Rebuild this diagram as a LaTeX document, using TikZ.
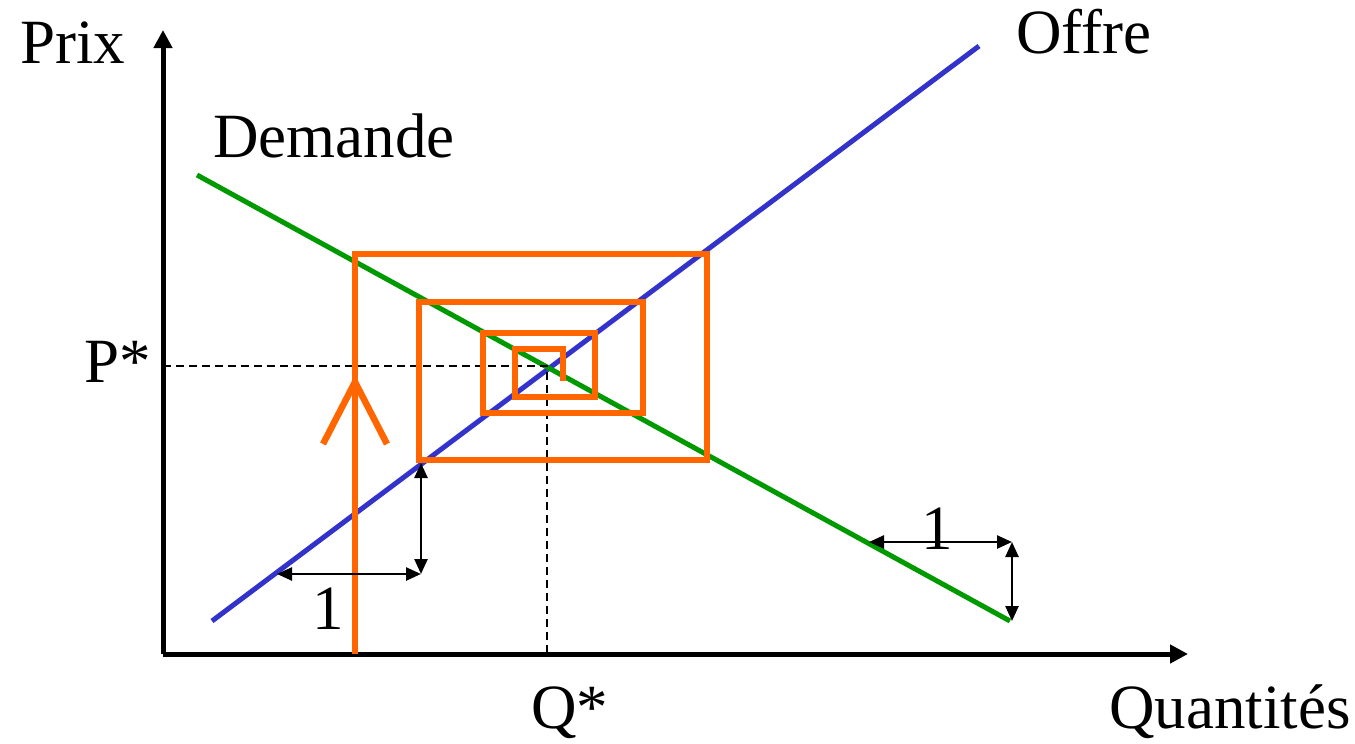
\documentclass[tikz,border=0pt]{standalone}
\usepackage{fontspec}
\setmainfont{Liberation Serif}
\usetikzlibrary{arrows.meta}
\definecolor{supblue}{RGB}{51,51,204}
\definecolor{demgreen}{RGB}{0,153,0}
\definecolor{cobweb}{RGB}{255,102,0}
\begin{document}
\begin{tikzpicture}[x=1pt,y=-1pt,
  lbl/.style={anchor=base west,inner sep=0pt,font=\fontsize{63}{70}\selectfont},
  axis/.style={line width=5pt,-{Triangle[length=18pt,width=18pt]}},
  curve/.style={line width=5pt},
  web/.style={line width=6.5pt,cobweb,line join=miter},
  unit/.style={line width=2.5pt,{Triangle[length=15pt,width=13pt]}-{Triangle[length=15pt,width=13pt]}},
  guide/.style={line width=1.5pt,dash pattern=on 8pt off 5pt}]
\useasboundingbox (0,0) rectangle (1355,744);
% coordinates
\coordinate (O) at (163,654);
\coordinate (ytop) at (163,30);
\coordinate (xend) at (1188,654);
\coordinate (s1) at (212,621);
\coordinate (s2) at (979,46);
\coordinate (d1) at (197,175);
\coordinate (d2) at (1010,621);
\coordinate (E) at (547,366);
\coordinate (Ey) at (163,366);
\coordinate (Ex) at (547,654);
% axes
\draw[axis] (O) -- (ytop);
\draw[axis] (O) -- (xend);
% curves
\draw[curve,supblue] (s1) -- (s2);
\draw[curve,demgreen] (d1) -- (d2);
% guides
\draw[guide] (Ey) -- (E) -- (Ex);
% cobweb
\coordinate (c0) at (355,654);
\draw[web] (c0) -- (355,254) -- (707,254) -- (707,460) -- (419,460) -- (419,302)
  -- (643,302) -- (643,413) -- (483,413) -- (483,333) -- (595,333) -- (595,397)
  -- (515,397) -- (515,349) -- (563,349) -- (563,381);
\coordinate (tip) at (355,382);
\coordinate (al) at (323,444);
\coordinate (ar) at (387,444);
\draw[web,line cap=butt] (al) -- (tip) -- (ar);
% unit triangles
\coordinate (u1) at (277,574);
\coordinate (u2) at (421,574);
\coordinate (u3) at (421,463);
\draw[unit] (u1) -- (u2);
\draw[unit] (u2) -- (u3);
\coordinate (v1) at (869,542);
\coordinate (v2) at (1012,542);
\coordinate (v3) at (1012,621);
\draw[unit] (v1) -- (v2);
\draw[unit] (v2) -- (v3);
% labels
\node[lbl] (prix) at (20,63) {Prix};
\node[lbl] (offre) at (1016,53) {Offre};
\node[lbl] (dem) at (213,157) {Demande};
\node[lbl] (pstar) at (84,382) {P*};
\node[lbl] (qstar) at (531,728) {Q*};
\node[lbl] (quant) at (1109,728) {Quantités};
\node[lbl] (one1) at (312,629) {1};
\node[lbl] (one2) at (921,549) {1};
\end{tikzpicture}
\end{document}
